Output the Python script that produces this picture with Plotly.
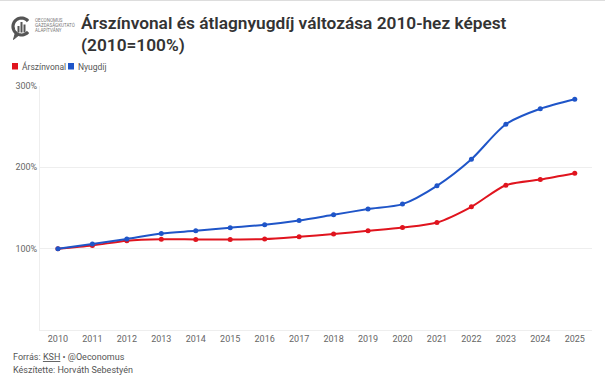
import math
import plotly.graph_objects as go

years = list(range(2010, 2026))
arszinvonal = [100, 103.9, 109.8, 111.6, 111.4, 111.3, 111.8, 114.6, 117.9, 121.9, 126.0, 132.2, 151.5, 178.0, 185.0, 192.8]
nyugdij = [100, 105.8, 112.0, 118.6, 122.0, 125.8, 129.4, 134.7, 141.7, 148.7, 154.8, 177.3, 210.0, 253.0, 272.0, 283.7]
y_ticks = [100, 200, 300]
y_tick_labels = ["100%", "200%", "300%"]
series_names = ["Árszínvonal", "Nyugdíj"]
RED = "#e0141e"
BLUE = "#1f55c8"
FONT = "Roboto"

W, H = 605, 386
L, R, T, B = 40, 13, 86, 56
PW, PH = W - L - R, H - T - B


def px(x):
    return (x - L) / PW


def py(y):
    return (H - B - y) / PH


fig = go.Figure()
fig.add_trace(go.Scatter(x=years, y=arszinvonal, name=series_names[0], mode="lines+markers",
                         line=dict(color=RED, width=2, shape="spline", smoothing=0.8),
                         marker=dict(color=RED, size=5), showlegend=False))
fig.add_trace(go.Scatter(x=years, y=nyugdij, name=series_names[1], mode="lines+markers",
                         line=dict(color=BLUE, width=2, shape="spline", smoothing=0.8),
                         marker=dict(color=BLUE, size=5), showlegend=False))

shapes = []
annotations = []

# Logo: ring with opening on right, bars, bubble tail
cx, cy, rr = 21.5, 26.5, 8.5
pts = []
for i in range(0, 41):
    a = math.radians(40 + i * (280 / 40))
    pts.append((cx + rr * math.cos(a), cy - rr * math.sin(a)))
path = "M " + " L ".join(f"{px(x):.5f},{py(y):.5f}" for x, y in pts)
shapes.append(dict(type="path", xref="paper", yref="paper", path=path,
                   line=dict(color="#555555", width=3.2)))
tail = [(15.5, 32.5), (13.5, 39.5), (19.5, 34.5)]
shapes.append(dict(type="path", xref="paper", yref="paper",
                   path="M " + " L ".join(f"{px(x):.5f},{py(y):.5f}" for x, y in tail) + " Z",
                   fillcolor="#555555", line=dict(color="#555555", width=1)))
for bx0, bx1, btop in [(17.5, 19.5, 26), (20.5, 22.5, 22), (23.5, 25.5, 24.5)]:
    shapes.append(dict(type="rect", xref="paper", yref="paper",
                       x0=px(bx0), x1=px(bx1), y0=py(32.5), y1=py(btop),
                       fillcolor="#555555", line=dict(width=0)))
for txt, yy in [("OECONOMUS", 20.5), ("GAZDASÁGKUTATÓ", 25.5), ("ALAPÍTVÁNY", 30.5)]:
    annotations.append(dict(text=txt, xref="paper", yref="paper", x=px(33), y=py(yy),
                            xanchor="left", yanchor="middle", showarrow=False,
                            font=dict(family=FONT, size=4.5, color="#777777")))

# Title
annotations.append(dict(text="Árszínvonal és átlagnyugdíj változása 2010-hez képest<br>(2010=100%)",
                        xref="paper", yref="paper", x=px(79), y=py(34), align="left",
                        xanchor="left", yanchor="middle", showarrow=False,
                        font=dict(family=FONT, size=17.3, color="#333333", weight=600)))

# Legend
for (sx, tx, name, col) in [(12, 19.5, series_names[0], RED), (68, 76, series_names[1], BLUE)]:
    shapes.append(dict(type="rect", xref="paper", yref="paper", x0=px(sx), x1=px(sx + 6),
                       y0=py(69.5), y1=py(63), fillcolor=col, line=dict(width=0)))
    annotations.append(dict(text=name, xref="paper", yref="paper", x=px(tx), y=py(66.5),
                            xanchor="left", yanchor="middle", showarrow=False,
                            font=dict(family=FONT, size=8.5, color="#555555")))

# Footer
annotations.append(dict(text="Forrás: <u>KSH</u> • @Oeconomus", xref="paper", yref="paper",
                        x=px(11), y=py(357), xanchor="left", yanchor="middle", showarrow=False,
                        font=dict(family=FONT, size=9, color="#555555")))
annotations.append(dict(text="Készítette: Horváth Sebestyén", xref="paper", yref="paper",
                        x=px(11), y=py(369.5), xanchor="left", yanchor="middle", showarrow=False,
                        font=dict(family=FONT, size=9, color="#555555")))

# Top border line
shapes.append(dict(type="line", xref="paper", yref="paper", x0=px(0), x1=px(W), y0=py(0.5), y1=py(0.5),
                   line=dict(color="#dddddd", width=1)))

fig.update_layout(
    width=W, height=H,
    margin=dict(l=L, r=R, t=T, b=B),
    paper_bgcolor="white", plot_bgcolor="white",
    shapes=shapes, annotations=annotations,
    font=dict(family=FONT, size=9, color="#666666"),
    xaxis=dict(range=[2009.48, 2025.5], tickvals=years, ticktext=[str(y) for y in years],
               showgrid=False, showline=True, linecolor="#eeeeee", linewidth=1,
               ticks="", tickfont=dict(size=9, color="#666666"), zeroline=False),
    yaxis=dict(range=[0, 300], tickvals=y_ticks, ticktext=y_tick_labels, showgrid=True,
               gridcolor="#eeeeee", gridwidth=1, showline=True, linecolor="#eeeeee",
               ticks="", tickfont=dict(size=9, color="#666666"), zeroline=False),
    hovermode=False,
)

fig.write_html("out.html", config={"displayModeBar": False},
               post_script="document.body.style.margin='0px';")
